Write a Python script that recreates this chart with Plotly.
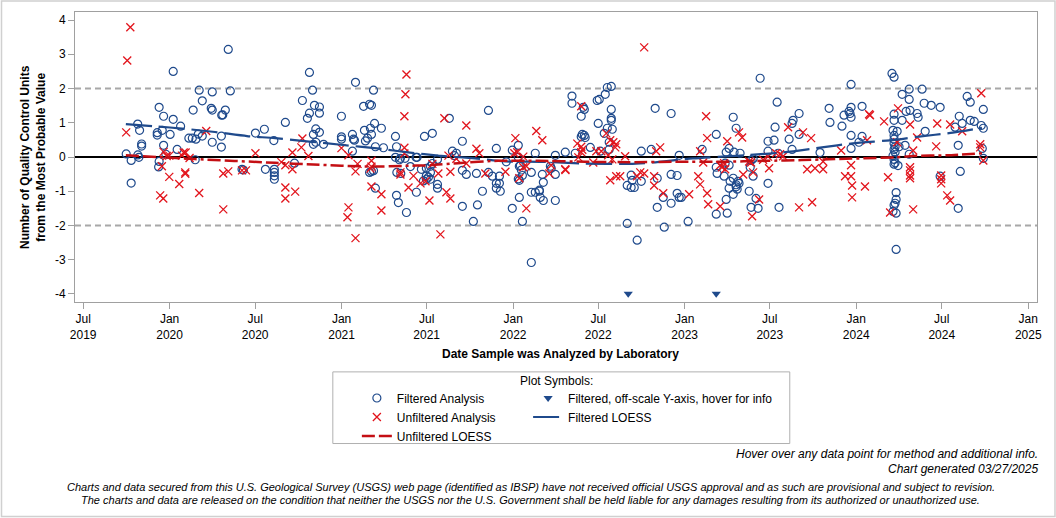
import numpy as np
import plotly.graph_objects as go
from datetime import datetime

# ---------------- data (decimal year, value in QC units) ----------------
F_YEARS = [
    2019.747, 2019.776, 2019.776, 2019.814, 2019.815, 2019.825, 2019.821, 2019.837, 2019.837, 2019.928,
    2019.928, 2019.936, 2019.939, 2019.939, 2019.957, 2019.965, 2019.965, 2019.978, 2020.003, 2020.021,
    2020.021, 2020.044, 2020.064, 2020.112, 2020.132, 2020.153, 2020.137, 2020.149, 2020.167, 2020.172,
    2020.190, 2020.190, 2020.242, 2020.248, 2020.248, 2020.248, 2020.301, 2020.301, 2020.303, 2020.309,
    2020.324, 2020.341, 2020.353, 2020.421, 2020.429, 2020.499, 2020.551, 2020.557, 2020.606, 2020.609,
    2020.609, 2020.609, 2020.609, 2020.673, 2020.726, 2020.772, 2020.801, 2020.813, 2020.813, 2020.831,
    2020.842, 2020.836, 2020.850, 2020.850, 2020.836, 2020.871, 2020.871, 2020.871, 2020.895, 2020.999,
    2020.999, 2020.999, 2021.063, 2021.069, 2021.075, 2021.063, 2021.081, 2021.128, 2021.163, 2021.174,
    2021.133, 2021.139, 2021.151, 2021.168, 2021.174, 2021.186, 2021.192, 2021.197, 2021.232, 2021.244,
    2021.163, 2021.174, 2021.186, 2021.197, 2021.314, 2021.320, 2021.314, 2021.337, 2021.343, 2021.322,
    2021.345, 2021.320, 2021.331, 2021.370, 2021.378, 2021.401, 2021.434, 2021.440, 2021.436, 2021.465,
    2021.477, 2021.483, 2021.494, 2021.494, 2021.506, 2021.529, 2021.529, 2021.518, 2021.518, 2021.518,
    2021.494, 2021.559, 2021.559, 2021.559, 2021.628, 2021.646, 2021.669, 2021.658, 2021.704, 2021.704,
    2021.727, 2021.704, 2021.768, 2021.786, 2021.792, 2021.821, 2021.856, 2021.856, 2021.879, 2021.902,
    2021.902, 2021.902, 2021.920, 2021.920, 2021.925, 2021.960, 2021.995, 2021.995, 2022.030, 2022.030,
    2022.036, 2022.042, 2022.036, 2022.030, 2022.054, 2022.048, 2022.036, 2022.054, 2022.106, 2022.106,
    2022.106, 2022.129, 2022.129, 2022.153, 2022.153, 2022.158, 2022.176, 2022.170, 2022.176, 2022.217,
    2022.222, 2022.246, 2022.246, 2022.246, 2022.304, 2022.362, 2022.343, 2022.343, 2022.409, 2022.397,
    2022.397, 2022.403, 2022.415, 2022.415, 2022.420, 2022.450, 2022.490, 2022.502, 2022.496, 2022.508,
    2022.537, 2022.549, 2022.572, 2022.572, 2022.572, 2022.572, 2022.578, 2022.549, 2022.531, 2022.560,
    2022.560, 2022.665, 2022.688, 2022.706, 2022.688, 2022.694, 2022.665, 2022.723, 2022.747, 2022.747,
    2022.805, 2022.828, 2022.840, 2022.840, 2022.875, 2022.881, 2022.921, 2022.921, 2022.921, 2022.956,
    2022.956, 2022.968, 2022.980, 2022.968, 2023.020, 2023.102, 2023.184, 2023.184, 2023.189, 2023.184,
    2023.230, 2023.236, 2023.242, 2023.259, 2023.259, 2023.242, 2023.248, 2023.259, 2023.265, 2023.283,
    2023.283, 2023.283, 2023.288, 2023.300, 2023.300, 2023.306, 2023.312, 2023.317, 2023.300, 2023.323,
    2023.376, 2023.382, 2023.387, 2023.399, 2023.399, 2023.387, 2023.416, 2023.428, 2023.440, 2023.486,
    2023.486, 2023.486, 2023.521, 2023.527, 2023.539, 2023.545, 2023.550, 2023.609, 2023.626, 2023.626,
    2023.632, 2023.667, 2023.667, 2023.789, 2023.842, 2023.847, 2023.917, 2023.929, 2023.958, 2023.964,
    2023.970, 2023.970, 2023.970, 2023.970, 2023.970, 2024.016, 2024.034, 2024.034, 2024.208, 2024.220,
    2024.232, 2024.220, 2024.220, 2024.214, 2024.238, 2024.220, 2024.220, 2024.220, 2024.226, 2024.220,
    2024.226, 2024.214, 2024.220, 2024.226, 2024.220, 2024.243, 2024.232, 2024.232, 2024.226, 2024.220,
    2024.232, 2024.214, 2024.249, 2024.284, 2024.308, 2024.267, 2024.267, 2024.308, 2024.308, 2024.290,
    2024.313, 2024.354, 2024.360, 2024.383, 2024.395, 2024.401, 2024.436, 2024.488, 2024.488, 2024.575,
    2024.593, 2024.593, 2024.599, 2024.605, 2024.616, 2024.645, 2024.663, 2024.663, 2024.686, 2024.727,
    2024.733, 2024.739, 2024.739, 2024.739,
]
F_VALUES = [
    0.09, -0.10, -0.76, 0.96, 0.06, 0.78, -0.01, 0.38, 0.32, 0.71,
    0.64, -0.29, 1.45, -0.13, 0.78, 1.19, 0.34, 0.08, 0.66, 2.50,
    1.10, 0.22, 0.90, 0.55, 0.55, 0.52, 1.37, -0.08, 0.67, 1.95,
    1.64, 0.61, 1.42, 1.37, 1.90, 0.43, 0.61, 0.29, 1.22, 1.23,
    1.37, 3.14, 1.93, -0.36, -0.38, 0.70, 0.81, -0.36, 0.48, -0.36,
    -0.45, -0.55, -0.65, 1.01, -0.18, 1.65, 1.13, 2.47, 1.28, 1.95,
    1.51, 0.66, 0.82, 0.43, 0.37, 1.46, 1.28, 0.72, 0.37, 1.19,
    0.59, 0.52, 0.66, 0.52, 0.49, 0.17, 2.18, 1.48, 1.54, 1.51,
    0.78, 0.47, 0.55, 0.84, 0.66, 1.95, 0.98, 0.30, 0.84, 0.27,
    -0.45, -0.42, -0.40, -0.91, 0.60, 0.30, -0.01, -0.08, -0.04, -0.45,
    -0.48, -1.12, -1.33, -0.04, -1.62, -0.28, -0.01, -0.01, -1.03, -0.36,
    -0.70, 0.60, -0.33, -0.65, -0.59, 0.69, -0.19, -0.27, -0.45, -0.65,
    -0.55, -0.07, -0.80, -0.91, 1.13, 0.17, 0.11, 0.04, 0.46, -0.39,
    -0.51, -1.44, -1.88, -0.48, -1.40, -1.00, 1.36, -0.45, -0.56, 0.25,
    -0.77, -0.91, -0.77, -0.56, -1.00, -0.14, 0.20, -1.50, 0.34, -0.01,
    -0.27, -0.25, -0.68, -0.64, -0.54, -0.38, -1.18, -1.88, -3.08, -0.45,
    -1.03, 0.11, -1.03, -1.00, -0.97, -1.18, -1.27, -0.51, -0.74, -0.27,
    -0.33, 0.05, -0.51, -1.27, 0.14, 0.11, 1.78, 1.57, 1.45, 1.19,
    0.59, 0.66, 1.39, 0.63, 0.57, 0.28, 1.65, 1.68, 0.98, 0.17,
    1.83, 2.03, 2.06, 1.39, 1.13, 1.07, 0.81, 0.84, 0.69, 0.43,
    0.22, -0.83, -0.89, -0.89, -0.53, -0.68, -1.94, -2.43, 0.17, -0.71,
    0.22, 1.42, -0.62, -1.47, -1.18, -2.05, 1.27, -0.51, -1.35, -0.54,
    -1.06, -1.18, -1.18, 0.05, -1.88, 0.22, 0.66, -0.30, -0.48, -1.67,
    -0.56, -0.18, 0.14, 0.25, -0.24, -1.24, -1.64, -0.91, -0.71, -0.62,
    -1.09, 1.16, 0.14, 0.84, -0.81, -0.94, -0.71, -0.77, -0.87, 0.11,
    -1.00, -0.30, -0.10, -0.05, -0.56, -1.47, -1.21, -1.50, 2.30, 0.46,
    0.17, -0.77, 0.49, 0.87, 1.60, 0.11, -1.47, 0.52, 0.22, 0.98,
    1.07, 1.27, 0.66, 0.13, 1.42, 1.01, 0.90, 1.22, 1.33, 1.27,
    1.45, 1.16, 2.12, 0.63, 0.25, 0.43, 0.60, 1.48, 2.44, 2.33,
    -2.70, 1.25, 1.07, 0.78, 0.75, 0.63, 0.52, 0.40, 0.30, 0.22,
    0.14, 0.04, -0.07, -0.17, -0.21, -0.25, -1.04, -1.24, -1.35, -1.41,
    -1.64, -1.59, 0.30, 0.34, 0.08, 1.83, 1.07, 1.98, 1.68, 1.33,
    1.36, 1.27, 1.16, 1.98, 1.57, 0.75, 1.51, 1.45, -0.56, 0.87,
    0.34, -1.50, 1.19, -0.42, 0.98, 1.77, 1.60, 1.07, 1.04, 0.92,
    0.25, 1.39, 0.84, -0.04,
]

U_YEARS = [
    2019.747, 2019.753, 2019.771, 2019.945, 2019.955, 2019.963, 2019.965, 2019.983, 2019.998, 2019.998,
    2020.056, 2020.072, 2020.082, 2020.093, 2020.091, 2020.091, 2020.116, 2020.172, 2020.213, 2020.312,
    2020.312, 2020.341, 2020.421, 2020.444, 2020.499, 2020.650, 2020.673, 2020.673, 2020.673, 2020.714,
    2020.714, 2020.730, 2020.766, 2020.772, 2020.807, 2020.999, 2021.040, 2021.040, 2021.034, 2021.081,
    2021.093, 2021.081, 2021.174, 2021.174, 2021.168, 2021.174, 2021.232, 2021.232, 2021.343, 2021.343,
    2021.366, 2021.366, 2021.366, 2021.372, 2021.378, 2021.390, 2021.419, 2021.460, 2021.489, 2021.512,
    2021.529, 2021.564, 2021.576, 2021.599, 2021.611, 2021.623, 2021.634, 2021.634, 2021.669, 2021.727,
    2021.727, 2021.786, 2021.803, 2021.838, 2021.955, 2022.007, 2022.013, 2022.024, 2022.036, 2022.059,
    2022.059, 2022.077, 2022.077, 2022.135, 2022.170, 2022.211, 2022.222, 2022.304, 2022.305, 2022.374,
    2022.380, 2022.397, 2022.397, 2022.403, 2022.397, 2022.467, 2022.485, 2022.514, 2022.543, 2022.554,
    2022.566, 2022.566, 2022.578, 2022.584, 2022.595, 2022.601, 2022.601, 2022.624, 2022.653, 2022.723,
    2022.741, 2022.764, 2022.764, 2022.822, 2022.822, 2022.834, 2022.857, 2022.875, 2023.026, 2023.079,
    2023.090, 2023.090, 2023.108, 2023.125, 2023.131, 2023.131, 2023.137, 2023.207, 2023.207, 2023.218,
    2023.230, 2023.236, 2023.248, 2023.317, 2023.335, 2023.341, 2023.376, 2023.387, 2023.393, 2023.399,
    2023.434, 2023.457, 2023.486, 2023.492, 2023.533, 2023.556, 2023.574, 2023.603, 2023.667, 2023.690,
    2023.714, 2023.737, 2023.743, 2023.760, 2023.807, 2023.807, 2023.912, 2023.935, 2023.970, 2023.970,
    2023.976, 2023.976, 2024.051, 2024.063, 2024.075, 2024.080, 2024.162, 2024.185, 2024.197, 2024.238,
    2024.243, 2024.313, 2024.313, 2024.313, 2024.313, 2024.313, 2024.331, 2024.331, 2024.354, 2024.465,
    2024.471, 2024.494, 2024.494, 2024.494, 2024.529, 2024.546, 2024.546, 2024.616, 2024.721, 2024.721,
    2024.727, 2024.739,
]
U_VALUES = [
    0.72, 2.82, 3.79, -1.12, -0.27, -1.21, 0.15, 0.03, 0.04, -0.58,
    -0.79, 0.04, 0.13, 0.13, -0.45, -0.49, -0.03, -1.05, 0.76, -0.48,
    -1.53, -0.42, -0.39, -0.39, 0.11, -0.15, -0.24, -0.89, -1.21, 0.13,
    -0.36, -1.01, 0.28, 0.54, 0.03, 0.26, 0.05, -1.47, -1.76, -0.42,
    -0.20, -2.37, -0.11, -0.28, -0.34, -0.86, -1.09, -1.56, -0.45, -0.51,
    0.27, 0.10, 1.19, 1.83, 2.41, -0.89, -0.55, -0.77, -0.71, -1.27,
    -0.20, -0.48, -2.26, 1.13, -1.03, 0.04, -0.43, -1.21, -0.05, 0.92,
    -0.19, 0.24, 0.11, -0.48, -0.43, 0.11, 0.55, 0.14, -0.62, 0.01,
    -0.30, -0.27, -1.50, 0.76, 0.49, -0.48, -0.24, -0.36, -0.38, 0.39,
    -0.01, 1.48, 0.30, 0.21, 0.14, -0.16, 0.17, 0.17, 0.69, 0.05,
    0.49, -0.68, -0.07, 0.43, 0.28, 0.37, -0.56, -0.56, 0.02, -0.56,
    -0.45, -0.48, 3.20, -0.56, -0.83, 0.17, 0.28, -1.06, -1.09, -0.56,
    0.17, -0.80, -0.16, 1.19, 0.55, -1.06, -1.38, -0.24, -1.44, -0.30,
    -0.18, -0.36, 0.46, 0.72, 0.57, -0.51, -0.13, -0.16, -1.73, -0.45,
    -1.24, -0.08, 0.01, -0.33, 0.11, 0.08, 0.02, 0.87, -1.47, 0.72,
    -0.36, 0.55, -1.32, -0.33, -0.36, -0.13, 0.19, -0.56, -0.56, -0.24,
    -0.83, -1.18, -0.86, 0.49, 1.25, 1.22, 1.04, -0.59, -1.62, 0.43,
    1.42, 0.95, -0.30, -0.39, -0.54, -0.62, 0.19, -1.53, 0.57, 0.31,
    0.98, -0.54, -0.65, -0.77, -1.12, -1.27, 0.95, 0.75, 0.37, 0.28,
    1.86, -0.10,
]

# Filtered results that are off the plotted scale (drawn at the axis floor)
OFF_YEARS = [2022.671, 2023.184]
OFF_PLOT_VALUE = -3.99

# LOESS curves
FL_YEARS = [2019.745, 2019.932, 2020.072, 2020.264, 2020.450, 2020.613, 2021.009, 2021.207, 2021.399,
            2021.563, 2021.778, 2021.953, 2022.157, 2022.419, 2022.681, 2022.815, 2023.048, 2023.322,
            2023.567, 2023.800, 2023.980, 2024.225, 2024.353, 2024.562, 2024.731]
FL_VALUES = [0.96, 0.89, 0.83, 0.73, 0.61, 0.55, 0.35, 0.25, 0.13,
             0.04, -0.04, -0.13, -0.14, -0.19, -0.20, -0.16, -0.04, 0.04,
             0.13, 0.28, 0.40, 0.50, 0.59, 0.71, 0.85]
UL_YEARS = [2019.745, 2020.147, 2020.613, 2020.835, 2021.167, 2021.359, 2021.516, 2021.679, 2021.912,
            2022.145, 2022.419, 2022.681, 2022.972, 2023.205, 2023.485, 2023.683, 2023.875, 2024.225,
            2024.330, 2024.528, 2024.731]
UL_VALUES = [0.05, -0.06, -0.17, -0.22, -0.28, -0.26, -0.24, -0.18, -0.11,
             -0.11, -0.14, -0.15, -0.14, -0.14, -0.11, -0.09, -0.06, -0.01,
             0.03, 0.05, 0.11]

X_TICK_DATES = ["2019-07-01", "2020-01-01", "2020-07-01", "2021-01-01", "2021-07-01", "2022-01-01",
                "2022-07-01", "2023-01-01", "2023-07-01", "2024-01-01", "2024-07-01", "2025-01-01"]
X_TICK_TEXT = ["Jul<br>2019", "Jan<br>2020", "Jul<br>2020", "Jan<br>2021", "Jul<br>2021", "Jan<br>2022",
               "Jul<br>2022", "Jan<br>2023", "Jul<br>2023", "Jan<br>2024", "Jul<br>2024", "Jan<br>2025"]
Y_TICKS = [-4, -3, -2, -1, 0, 1, 2, 3, 4]
X_RANGE_YEARS = [2019.4485, 2025.0512]
Y_RANGE = [-4.234, 4.234]


def dec_to_date(y):
    yr = int(np.floor(y))
    s = datetime(yr, 1, 1)
    e = datetime(yr + 1, 1, 1)
    return s + (e - s) * (y - yr)


def dates(arr):
    return [dec_to_date(v) for v in arr]


BLUE = "#1F4A8C"
RED = "#E2141C"
DRED = "#C40F14"
FONT = "Liberation Sans, Arial, sans-serif"

fig = go.Figure()

fig.add_trace(go.Scatter(
    x=dates(F_YEARS), y=F_VALUES, mode="markers", name="Filtered Analysis",
    marker=dict(symbol="circle-open", size=8, color=BLUE, line=dict(width=1.2, color=BLUE)),
    legend="legend", legendrank=1,
    hovertemplate="Filtered<br>%{x|%m/%d/%Y}<br>%{y:.2f}<extra></extra>"))
fig.add_trace(go.Scatter(
    x=dates(U_YEARS), y=U_VALUES, mode="markers", name="Unfiltered Analysis",
    marker=dict(symbol="x-thin-open", size=8, color=RED, line=dict(width=1.3, color=RED)),
    legend="legend", legendrank=2,
    hovertemplate="Unfiltered<br>%{x|%m/%d/%Y}<br>%{y:.2f}<extra></extra>"))
fig.add_trace(go.Scatter(
    x=dates(FL_YEARS), y=FL_VALUES, mode="lines", name="Filtered LOESS",
    line=dict(color=BLUE, width=2.2, dash="26px,7px", shape="spline", smoothing=0.6),
    legend="legend2", legendrank=2, hoverinfo="skip"))
fig.add_trace(go.Scatter(
    x=dates(UL_YEARS), y=UL_VALUES, mode="lines", name="Unfiltered LOESS",
    line=dict(color=DRED, width=2.5, dash="13px,4px,13px,4px,3px,4px", shape="spline", smoothing=0.6),
    legend="legend", legendrank=3, hoverinfo="skip"))
fig.add_trace(go.Scatter(
    x=dates(OFF_YEARS), y=[OFF_PLOT_VALUE] * len(OFF_YEARS), mode="markers",
    name="Filtered, off-scale Y-axis, hover for info",
    marker=dict(symbol="triangle-down", size=8, color=BLUE),
    legend="legend2", legendrank=1,
    hovertemplate="Filtered, off-scale<br>%{x|%m/%d/%Y}<extra></extra>"))

axis_common = dict(showgrid=False, zeroline=False, showline=True, linecolor="#A0A0A0", linewidth=1,
                   mirror=True, ticks="outside", ticklen=6, tickcolor="#A0A0A0",
                   tickfont=dict(family=FONT, size=12, color="#000"))

fig.update_layout(
    width=1056, height=518,
    margin=dict(l=75, r=19, t=12, b=216),
    paper_bgcolor="white", plot_bgcolor="white",
    font=dict(family=FONT, size=12, color="#000"),
    xaxis=dict(type="date", range=[dec_to_date(X_RANGE_YEARS[0]), dec_to_date(X_RANGE_YEARS[1])],
               tickmode="array", tickvals=X_TICK_DATES, ticktext=X_TICK_TEXT, **axis_common),
    yaxis=dict(range=Y_RANGE, tickmode="array", tickvals=Y_TICKS, ticktext=[str(t) for t in Y_TICKS],
               **axis_common),
    showlegend=True,
    legend=dict(x=0.293, y=-0.281, xanchor="left", yanchor="top", orientation="v",
                bgcolor="rgba(0,0,0,0)", borderwidth=0, font=dict(family=FONT, size=12),
                traceorder="normal", itemwidth=30, tracegroupgap=0),
    legend2=dict(x=0.471, y=-0.281, xanchor="left", yanchor="top", orientation="v",
                 bgcolor="rgba(0,0,0,0)", borderwidth=0, font=dict(family=FONT, size=12),
                 traceorder="normal", itemwidth=30, tracegroupgap=0),
    hovermode="closest",
)

shapes = [
    dict(type="line", xref="paper", yref="y", x0=0, x1=1, y0=2, y1=2,
         line=dict(color="#A8A8A8", width=2, dash="6px,4px"), layer="below"),
    dict(type="line", xref="paper", yref="y", x0=0, x1=1, y0=-2, y1=-2,
         line=dict(color="#A8A8A8", width=2, dash="6px,4px"), layer="below"),
    dict(type="line", xref="paper", yref="y", x0=0, x1=1, y0=0, y1=0,
         line=dict(color="#000000", width=2), layer="below"),
    # legend frame
    dict(type="rect", xref="paper", yref="paper", x0=0.268, x1=0.743, y0=-0.488, y1=-0.241,
         line=dict(color="#B0B0B0", width=1), fillcolor="rgba(0,0,0,0)"),
    # outer frame
    dict(type="rect", xref="paper", yref="paper", x0=-0.0764, x1=1.0187, y0=-0.7396, y1=1.0379,
         line=dict(color="#D0D0D0", width=1.5), fillcolor="rgba(0,0,0,0)"),
]
fig.update_layout(shapes=shapes)

annotations = [
    dict(text="<b>Number of Quality Control Units<br>from the Most Probable Value</b>",
         xref="paper", yref="paper", x=-0.0437, y=0.5, textangle=-90, showarrow=False,
         xanchor="center", yanchor="middle", font=dict(family=FONT, size=12)),
    dict(text="<b>Date Sample was Analyzed by Laboratory</b>", xref="paper", yref="paper",
         x=0.505, y=-0.179, showarrow=False, xanchor="center", yanchor="middle",
         font=dict(family=FONT, size=12)),
    dict(text="Plot Symbols:", xref="paper", yref="paper", x=0.5, y=-0.272, showarrow=False,
         xanchor="center", yanchor="middle", font=dict(family=FONT, size=12)),
    dict(text="<i>Hover over any data point for method and additional info.</i>", xref="paper",
         yref="paper", x=1.003, y=-0.524, showarrow=False, xanchor="right", yanchor="middle",
         font=dict(family=FONT, size=12)),
    dict(text="<i>Chart generated 03/27/2025</i>", xref="paper", yref="paper", x=1.003, y=-0.576,
         showarrow=False, xanchor="right", yanchor="middle", font=dict(family=FONT, size=12)),
    dict(text="<i>Charts and data secured from this U.S. Geological Survey (USGS) web page (identified as IBSP) "
              "have not received official USGS approval and as such are provisional and subject to revision.</i>",
         xref="paper", yref="paper", x=0.474, y=-0.638, showarrow=False, xanchor="center",
         yanchor="middle", font=dict(family=FONT, size=11)),
    dict(text="<i>The charts and data are released on the condition that neither the USGS nor the U.S. Government "
              "shall be held liable for any damages resulting from its authorized or unauthorized use.</i>",
         xref="paper", yref="paper", x=0.474, y=-0.683, showarrow=False, xanchor="center",
         yanchor="middle", font=dict(family=FONT, size=11)),
]
fig.update_layout(annotations=annotations)

fig.write_html("out.html")
